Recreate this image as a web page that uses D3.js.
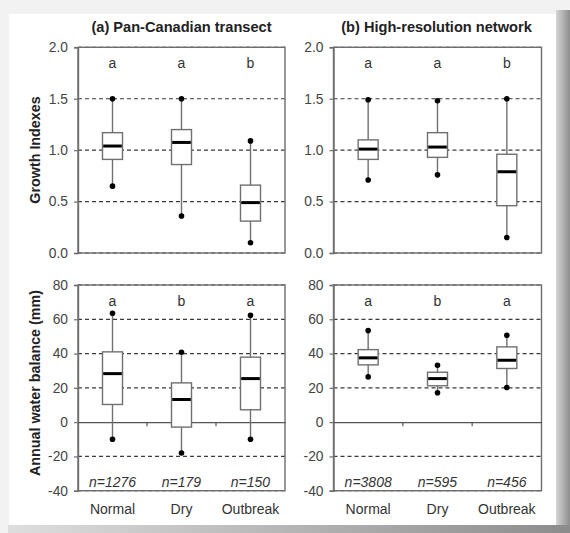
<!DOCTYPE html>
<html>
<head>
<meta charset="utf-8">
<script src="https://cdn.jsdelivr.net/npm/d3@7"></script>
<style>
  html, body { margin: 0; padding: 0; background: #f2f2f2; }
  svg { display: block; }
  text { font-family: "Liberation Sans", Arial, sans-serif; }
</style>
</head>
<body>
<svg id="chart" width="570" height="533"></svg>
<script>
// ---------- data ----------
const categories = ["Normal", "Dry", "Outbreak"];
// [lower whisker, Q1, median, Q3, upper whisker]
const growthPanCanadian = [[0.65, 0.91, 1.04, 1.17, 1.50], [0.36, 0.86, 1.075, 1.20, 1.50], [0.10, 0.31, 0.49, 0.66, 1.09]];
const growthHighRes     = [[0.71, 0.91, 1.01, 1.10, 1.49], [0.76, 0.93, 1.03, 1.17, 1.48], [0.15, 0.46, 0.79, 0.96, 1.50]];
const waterPanCanadian  = [[-10, 10.3, 28.3, 41, 63.5], [-18, -2.9, 13.2, 22.9, 40.8], [-10, 7.2, 25.4, 37.9, 62.3]];
const waterHighRes      = [[26.4, 33.4, 37.5, 42.3, 53.4], [17.1, 21.2, 25.4, 29.1, 33.2], [20.2, 31.3, 36.1, 43.9, 50.7]];
const lettersGrowthPanCanadian = ["a", "a", "b"];
const lettersGrowthHighRes = ["a", "a", "b"];
const lettersWaterPanCanadian = ["a", "b", "a"];
const lettersWaterHighRes = ["a", "b", "a"];
const nPanCanadian = [1276, 179, 150];
const nHighRes = [3808, 595, 456];
const growthTicks = [0, 0.5, 1.0, 1.5, 2.0];
const waterTicks = [-40, -20, 0, 20, 40, 60, 80];
const panelTitles = ["(a) Pan-Canadian transect", "(b) High-resolution network"];
const yTitles = ["Growth Indexes", "Annual water balance (mm)"];

// ---------- layout ----------
const svg = d3.select("#chart");
const defs = svg.append("defs");
const gR = defs.append("linearGradient").attr("id", "shR").attr("x1", "0").attr("x2", "1").attr("y1", "0").attr("y2", "0");
gR.append("stop").attr("offset", "0").attr("stop-color", "#d6d6d6");
gR.append("stop").attr("offset", "1").attr("stop-color", "#8c8c8c");
const gB = defs.append("linearGradient").attr("id", "shB").attr("x1", "0").attr("x2", "1").attr("y1", "0").attr("y2", "0");
gB.append("stop").attr("offset", "0").attr("stop-color", "#dedede");
gB.append("stop").attr("offset", "1").attr("stop-color", "#8c8c8c");

svg.append("rect").attr("x", 556).attr("y", 10).attr("width", 14).attr("height", 523).attr("fill", "url(#shR)");
svg.append("rect").attr("x", 8).attr("y", 525).attr("width", 562).attr("height", 8).attr("fill", "url(#shB)");
svg.append("rect").attr("x", 9).attr("y", 14).attr("width", 547).attr("height", 511).attr("fill", "#ffffff");

const cols = [{ l: 78, r: 285 }, { l: 333.5, r: 541.5 }];
const rows = [
  { t: 47.3, b: 253, domain: [0, 2], ticks: growthTicks, fmt: d3.format(".1f"), letterY: 67.5, zero: false },
  { t: 285, b: 490.7, domain: [-40, 80], ticks: waterTicks, fmt: d => String(d), letterY: 306, zero: true }
];
const panels = [
  { row: 0, col: 0, data: growthPanCanadian, letters: lettersGrowthPanCanadian },
  { row: 0, col: 1, data: growthHighRes, letters: lettersGrowthHighRes },
  { row: 1, col: 0, data: waterPanCanadian, letters: lettersWaterPanCanadian, n: nPanCanadian },
  { row: 1, col: 1, data: waterHighRes, letters: lettersWaterHighRes, n: nHighRes }
];

const frameColor = "#6e6e6e";
const boxColor = "#707070";

panels.forEach(p => {
  const R = rows[p.row], C = cols[p.col];
  const x = d3.scaleBand().domain(categories).range([C.l, C.r]).paddingInner(0).paddingOuter(0);
  const y = d3.scaleLinear().domain(R.domain).range([R.b, R.t]);
  const g = svg.append("g");

  // gridlines (dashed)
  g.selectAll("line.grid").data(R.ticks.filter(t => !(R.zero && t === 0))).join("line")
    .attr("x1", C.l).attr("x2", C.r).attr("y1", d => y(d)).attr("y2", d => y(d))
    .attr("stroke", "#3a3a3a").attr("stroke-width", 1.2).attr("stroke-dasharray", "4,3");

  // frame
  g.append("rect").attr("x", C.l).attr("y", R.t).attr("width", C.r - C.l).attr("height", R.b - R.t)
    .attr("fill", "none").attr("stroke", frameColor).attr("stroke-width", 1.4);

  // y axis
  const yAxis = d3.axisLeft(y).tickValues(R.ticks).tickFormat(R.fmt).tickSize(4).tickPadding(6);
  const ya = g.append("g").attr("transform", `translate(${C.l},0)`).call(yAxis);
  ya.select(".domain").attr("stroke", frameColor).attr("stroke-width", 1.4);
  ya.selectAll(".tick line").attr("stroke", frameColor).attr("stroke-width", 1.2);
  ya.selectAll(".tick text").attr("fill", "#444").style("font-size", "13.8px")
    .style("font-family", "'Liberation Sans', Arial, sans-serif");

  // zero line with category boundary ticks
  if (R.zero) {
    const xa = d3.axisBottom(x).tickSize(0).tickFormat("");
    const xg = g.append("g").attr("transform", `translate(0,${y(0)})`).call(xa);
    xg.select(".domain").attr("stroke", "#555").attr("stroke-width", 1.3);
    xg.selectAll(".tick").remove();
    const bounds = categories.slice(1).map(c => x(c));
    g.selectAll("line.bt").data(bounds).join("line")
      .attr("x1", d => d).attr("x2", d => d).attr("y1", y(0)).attr("y2", y(0) + 4)
      .attr("stroke", "#555").attr("stroke-width", 1.2);
  }

  // boxplots
  const bw = 20;
  const bx = g.selectAll("g.box").data(p.data).join("g")
    .attr("transform", (d, i) => `translate(${x(categories[i]) + x.bandwidth() / 2},0)`);
  bx.append("line").attr("x1", 0).attr("x2", 0).attr("y1", d => y(d[0])).attr("y2", d => y(d[1]))
    .attr("stroke", boxColor).attr("stroke-width", 1.4);
  bx.append("line").attr("x1", 0).attr("x2", 0).attr("y1", d => y(d[3])).attr("y2", d => y(d[4]))
    .attr("stroke", boxColor).attr("stroke-width", 1.4);
  bx.append("rect").attr("x", -bw / 2).attr("width", bw)
    .attr("y", d => y(d[3])).attr("height", d => y(d[1]) - y(d[3]))
    .attr("fill", "#fff").attr("stroke", boxColor).attr("stroke-width", 1.4);
  bx.append("line").attr("x1", -bw / 2 + 0.7).attr("x2", bw / 2 - 0.7).attr("y1", d => y(d[2])).attr("y2", d => y(d[2]))
    .attr("stroke", "#000").attr("stroke-width", 3);
  bx.append("circle").attr("cx", 0).attr("cy", d => y(d[0])).attr("r", 2.8).attr("fill", "#000");
  bx.append("circle").attr("cx", 0).attr("cy", d => y(d[4])).attr("r", 2.8).attr("fill", "#000");

  // significance letters
  g.selectAll("text.letter").data(p.letters).join("text")
    .attr("x", (d, i) => x(categories[i]) + x.bandwidth() / 2).attr("y", R.letterY)
    .attr("text-anchor", "middle").attr("fill", "#333").style("font-size", "14px").text(d => d);

  // sample sizes and category labels
  if (p.n) {
    g.selectAll("text.n").data(p.n).join("text")
      .attr("x", (d, i) => x(categories[i]) + x.bandwidth() / 2).attr("y", 486.7)
      .attr("text-anchor", "middle").attr("fill", "#333").style("font-size", "14px").style("font-style", "italic")
      .text(d => "n=" + d);
    g.selectAll("text.cat").data(categories).join("text")
      .attr("x", d => x(d) + x.bandwidth() / 2).attr("y", 513.5)
      .attr("text-anchor", "middle").attr("fill", "#333").style("font-size", "14px").text(d => d);
  }
});

// panel titles
svg.selectAll("text.ptitle").data(panelTitles).join("text")
  .attr("x", (d, i) => i === 0 ? 181.5 : 436.5).attr("y", 32)
  .attr("text-anchor", "middle").attr("fill", "#222").style("font-size", "14.6px").style("font-weight", "bold")
  .text(d => d);

// y titles
svg.selectAll("text.ytitle").data(yTitles).join("text")
  .attr("transform", (d, i) => `translate(40,${i === 0 ? 150 : 383}) rotate(-90)`)
  .attr("text-anchor", "middle").attr("fill", "#222").style("font-size", "14.3px").style("font-weight", "bold")
  .text(d => d);
</script>
</body>
</html>
